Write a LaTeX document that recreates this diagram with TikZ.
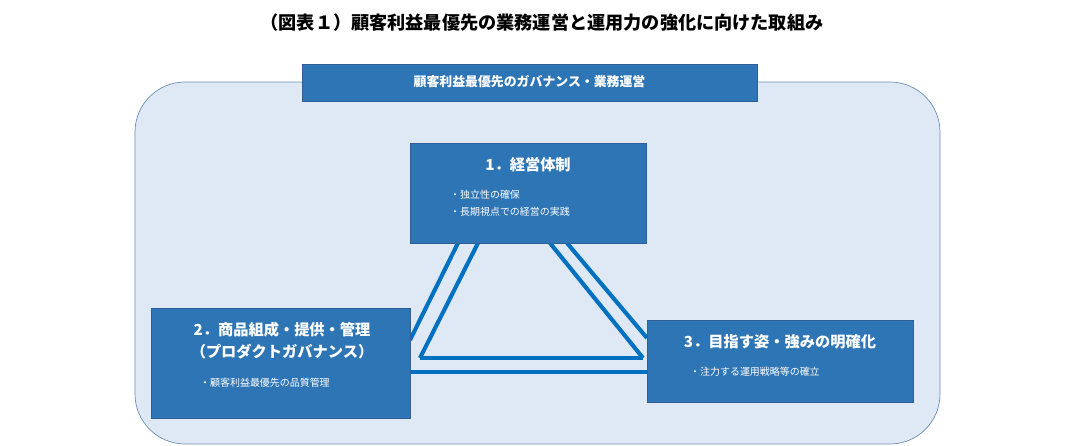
\documentclass[tikz,border=0pt]{standalone}
\usepackage{fontspec}
\setmainfont{Noto Sans CJK JP}
\definecolor{boxblue}{HTML}{2E75B6}
\definecolor{edgeblue}{HTML}{2F5F96}
\definecolor{bgblue}{HTML}{DEE9F5}
\definecolor{linblue}{HTML}{0070C0}
\tikzset{
  bluebox/.style={draw=edgeblue,fill=boxblue,line width=0.6pt},
  wt/.style={text=white,font=\bfseries\fontsize{13}{15}\selectfont,anchor=center,inner sep=0},
  wsmall/.style={text=white,font=\fontsize{8.5}{10}\selectfont,anchor=west,inner sep=0},
  tri/.style={linblue,line width=3.5pt}
}
\begin{document}
\begin{tikzpicture}[x=0.03cm,y=-0.03cm]
\useasboundingbox (0,0) rectangle (1085,446);
\node[font=\bfseries\fontsize{15.5}{18}\selectfont,inner sep=0] (title) at (542,23) {（図表１）顧客利益最優先の業務運営と運用力の強化に向けた取組み};
\draw[draw=edgeblue!70,fill=bgblue,rounded corners=50*0.03cm,line width=0.6pt] (135,82) rectangle (940,444);
% triangle
\coordinate (a1) at (458,243); \coordinate (a2) at (410,340);
\coordinate (b1) at (478,243); \coordinate (b2) at (420,358);
\coordinate (c1) at (420,358); \coordinate (c2) at (643,358);
\coordinate (d1) at (410,372); \coordinate (d2) at (647,372);
\coordinate (e1) at (550,243); \coordinate (e2) at (643,358);
\coordinate (f1) at (567,243); \coordinate (f2) at (647,338);
\draw[tri] (a1)--(a2); \draw[tri] (b1)--(b2); \draw[tri] (c1)--(c2);
\draw[tri] (d1)--(d2); \draw[tri] (e1)--(e2); \draw[tri] (f1)--(f2);
% header
\draw[bluebox] (302,64) rectangle (757,101);
\node[wt,font=\bfseries\fontsize{11}{13}\selectfont] (hdr) at (529.5,82) {顧客利益最優先のガバナンス・業務運営};
% box1
\draw[bluebox] (410,143) rectangle (646,243);
\node[wt] (t1) at (528,165) {1．経営体制};
\node[wsmall] (s1a) at (450,195) {・独立性の確保};
\node[wsmall] (s1b) at (450,212) {・長期視点での経営の実践};
% box2
\draw[bluebox] (151,308) rectangle (410,418);
\node[wt] (t2a) at (282,330) {2．商品組成・提供・管理};
\node[wt] (t2b) at (282,352) {（プロダクトガバナンス）};
\node[wsmall] (s2) at (200,383) {・顧客利益最優先の品質管理};
% box3
\draw[bluebox] (647,320) rectangle (913,402);
\node[wt] (t3) at (780,342) {3．目指す姿・強みの明確化};
\node[wsmall] (s3) at (690,372) {・注力する運用戦略等の確立};
\end{tikzpicture}
\end{document}
